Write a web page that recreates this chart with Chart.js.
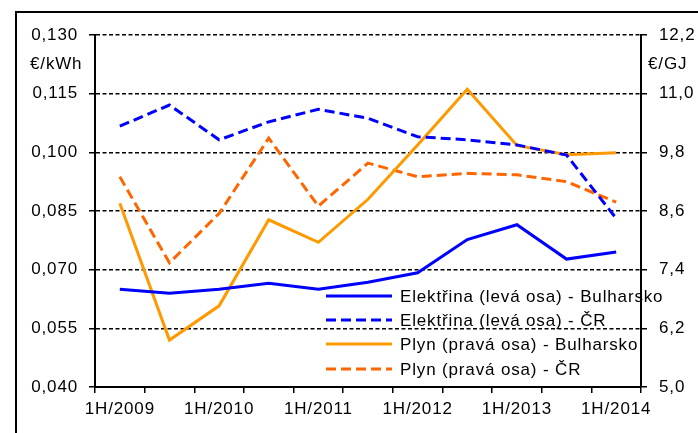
<!DOCTYPE html>
<html>
<head>
<meta charset="utf-8">
<script src="https://cdn.jsdelivr.net/npm/chart.js@4/dist/chart.umd.min.js"></script>
<style>
  html, body { margin: 0; padding: 0; background: #fff; }
  #wrap { position: relative; width: 698px; height: 433px; overflow: hidden; }
  #frame { position: absolute; left: 15px; top: 11px; width: 800px; height: 600px;
           border-left: 2px solid #000; border-top: 2px solid #000; box-sizing: border-box; }
  canvas { position: absolute; left: 0; top: 0; }
</style>
</head>
<body>
<div id="wrap">
  <div id="frame"></div>
  <canvas id="chartCanvas" width="698" height="433"></canvas>
</div>
<script>
// Half-year periods
const periods = ['1H/2009', '2H/2009', '1H/2010', '2H/2010', '1H/2011', '2H/2011',
                 '1H/2012', '2H/2012', '1H/2013', '2H/2013', '1H/2014'];

// Electricity, EUR/kWh (left axis)
const elektrinaBG = [0.065, 0.064, 0.065, 0.0665, 0.065, 0.0668, 0.0692, 0.0777, 0.0815, 0.0727, 0.0745];
const elektrinaCR = [0.1067, 0.1121, 0.1032, 0.1078, 0.111, 0.1087, 0.104, 0.1032, 0.1019, 0.0993, 0.0831];

// Gas, EUR/GJ (right axis)
const plynBG = [8.76, 5.96, 6.66, 8.42, 7.96, 8.84, 9.95, 11.09, 9.94, 9.75, 9.79];
const plynCR = [9.30, 7.54, 8.55, 10.09, 8.70, 9.58, 9.30, 9.37, 9.34, 9.20, 8.78];

const seriesNames = ['Elektřina (levá osa) - Bulharsko', 'Elektřina (levá osa) - ČR',
                     'Plyn (pravá osa) - Bulharsko', 'Plyn (pravá osa) - ČR'];
const leftUnit = '€/kWh';
const rightUnit = '€/GJ';

(function() {
  'use strict';

  const FONT = '"Liberation Sans", Arial, sans-serif';
  const SPACING = '0.85px';

  function setSpacing(chart) {
    if ('letterSpacing' in chart.ctx) chart.ctx.letterSpacing = SPACING;
  }

  // Text looks slightly stretched in the original, emulate with letter spacing
  const spacingPlugin = {
    id: 'spacing',
    beforeUpdate: setSpacing,
    beforeLayout: setSpacing,
    beforeDraw: setSpacing
  };

  // Units above the axes and the legend inside the plot
  const overlayPlugin = {
    id: 'overlay',
    afterDraw(chart) {
      const ctx = chart.ctx;
      const area = chart.chartArea;
      ctx.save();
      setSpacing(chart);
      ctx.font = '17px ' + FONT;
      ctx.fillStyle = '#000';
      ctx.textBaseline = 'middle';
      ctx.textAlign = 'left';
      ctx.fillText(leftUnit, area.left - 65, area.top + 29);
      ctx.fillText(rightUnit, area.right + 7, area.top + 29);

      const x0 = area.left + 231;
      const rowY = [296, 320, 344, 369];
      chart.data.datasets.forEach((ds, i) => {
        const y = rowY[i];
        ctx.save();
        ctx.strokeStyle = ds.borderColor;
        ctx.lineWidth = ds.borderWidth;
        ctx.setLineDash(ds.borderDash || []);
        ctx.beginPath();
        ctx.moveTo(x0, y);
        ctx.lineTo(x0 + 66, y);
        ctx.stroke();
        ctx.restore();
        ctx.fillText(ds.label, x0 + 74, y + 1);
      });
      ctx.restore();
    }
  };

  const tickFont = { family: FONT, size: 17 };

  const ctx = document.getElementById('chartCanvas').getContext('2d');
  new Chart(ctx, {
    type: 'line',
    data: {
      labels: periods,
      datasets: [
        { label: seriesNames[0], data: elektrinaBG, yAxisID: 'y', borderColor: '#0000ff', borderWidth: 3 },
        { label: seriesNames[1], data: elektrinaCR, yAxisID: 'y', borderColor: '#0000ff', borderWidth: 3, borderDash: [10, 5] },
        { label: seriesNames[2], data: plynBG, yAxisID: 'y2', borderColor: '#ff9900', borderWidth: 3 },
        { label: seriesNames[3], data: plynCR, yAxisID: 'y2', borderColor: '#ff6600', borderWidth: 3, borderDash: [10, 5] }
      ]
    },
    options: {
      responsive: false,
      maintainAspectRatio: false,
      animation: false,
      layout: { padding: { left: 0, right: 0, top: 35, bottom: 0 } },
      elements: {
        point: { radius: 0 },
        line: { tension: 0, fill: false }
      },
      plugins: {
        legend: { display: false },
        title: { display: false },
        tooltip: { enabled: false }
      },
      scales: {
        x: {
          offset: true,
          grid: { offset: true, drawOnChartArea: false, tickLength: 6, color: '#000', lineWidth: 1.5 },
          border: { display: true, color: '#000', width: 2 },
          ticks: {
            color: '#000', font: tickFont, autoSkip: false, maxRotation: 0, padding: 6,
            callback: function(value, index) {
              return index % 2 === 0 ? this.getLabelForValue(value) : '';
            }
          },
          afterFit(scale) { scale.height = 46; scale.paddingLeft = 0; scale.paddingRight = 0; }
        },
        y: {
          position: 'left',
          min: 0.04, max: 0.13,
          grid: { color: '#000', lineWidth: 1.5, tickLength: 6 },
          border: { display: true, color: '#000', width: 2, dash: [4, 2.5] },
          ticks: {
            stepSize: 0.015, color: '#000', font: tickFont, padding: 11,
            callback: v => v.toFixed(3).replace('.', ',')
          },
          afterFit(scale) { scale.width = 95; scale.paddingTop = 0; scale.paddingBottom = 0; }
        },
        y2: {
          position: 'right',
          min: 5.0, max: 12.2,
          grid: { drawOnChartArea: false, color: '#000', lineWidth: 1.5, tickLength: 6 },
          border: { display: true, color: '#000', width: 2 },
          ticks: {
            stepSize: 1.2, color: '#000', font: tickFont, padding: 12,
            callback: v => v.toFixed(1).replace('.', ',')
          },
          afterFit(scale) { scale.width = 57; scale.paddingTop = 0; scale.paddingBottom = 0; }
        }
      }
    },
    plugins: [spacingPlugin, overlayPlugin]
  });
})();
</script>
</body>
</html>
